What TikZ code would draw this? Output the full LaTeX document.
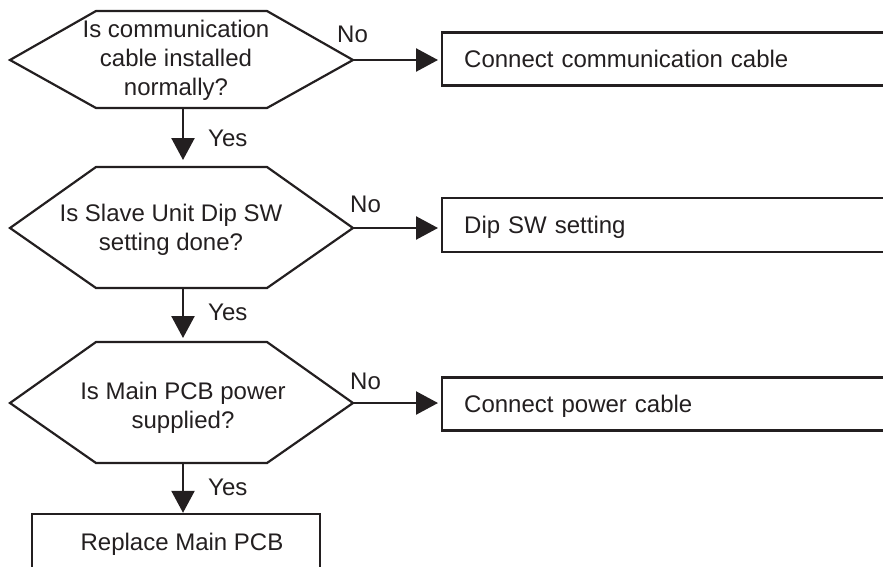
\documentclass[tikz,border=0pt]{standalone}
\usepackage{fontspec}
\setmainfont{Liberation Sans}
\usetikzlibrary{arrows.meta}
\definecolor{ink}{HTML}{231F20}
\tikzset{
  every node/.style={font=\fontsize{24}{29}\selectfont, text=ink, inner sep=0pt},
  hexa/.style={draw=ink, line width=2.2pt, line join=miter},
  qtext/.style={align=center},
  actbox/.style={draw=ink, line width=2.4pt, text height=17.2pt, text depth=0pt},
  lbl/.style={anchor=base west},
  arr/.style={draw=ink, line width=2.4pt, -{Triangle[length=22pt,width=23pt]}}
}
\begin{document}
\begin{tikzpicture}[x=1pt,y=-1pt]
\clip (0,0) rectangle (883,566);
% decision 1
\draw[hexa] (10,60) -- (96,11) -- (267,11) -- (353,60) -- (267,108) -- (96,108) -- cycle;
\coordinate (q1e) at (353,60);
\coordinate (q1s) at (183,108);
\node[qtext] (t1) at (176,60) {Is communication\\cable installed\\normally?};
% decision 2
\draw[hexa] (10,228) -- (96,167) -- (267,167) -- (353,228) -- (267,288) -- (96,288) -- cycle;
\coordinate (q2n) at (183,167);
\coordinate (q2e) at (353,228);
\coordinate (q2s) at (183,288);
\node[qtext] (t2) at (171,230) {Is Slave Unit Dip SW\\setting done?};
% decision 3
\draw[hexa] (10,403) -- (96,342) -- (267,342) -- (353,403) -- (267,463) -- (96,463) -- cycle;
\coordinate (q3n) at (183,342);
\coordinate (q3e) at (353,403);
\coordinate (q3s) at (183,463);
\node[qtext] (t3) at (183,408) {Is Main PCB power\\supplied?};
% action boxes
\node[actbox, anchor=west, minimum width=450pt, minimum height=53pt, text width=406pt, align=left] (a1) at (441,59) {Connect communication cable};
\node[actbox, anchor=west, minimum width=450pt, minimum height=54pt, text width=406pt, align=left] (a2) at (441,225) {Dip SW setting};
\node[actbox, anchor=west, minimum width=450pt, minimum height=53pt, text width=406pt, align=left] (a3) at (441,404) {Connect power cable};
\node[actbox, minimum width=288pt, minimum height=56pt] (r) at (176,542) {\hspace*{12pt}Replace Main PCB};
% connectors
\draw[arr, shorten >=3pt] (q1e) -- (q1e -| a1.west);
\draw[arr, shorten >=3pt] (q2e) -- (q2e -| a2.west);
\draw[arr, shorten >=3pt] (q3e) -- (q3e -| a3.west);
\draw[arr, shorten >=7pt] (q1s) -- (q2n);
\draw[arr, shorten >=4pt] (q2s) -- (q3n);
\draw[arr] (q3s) -- (q3s |- r.north);
% labels
\node[lbl] (n1) at (337,42) {No};
\node[lbl] (n2) at (350,212) {No};
\node[lbl] (n3) at (350,389) {No};
\node[lbl] (y1) at (208,146) {Yes};
\node[lbl] (y2) at (208,320) {Yes};
\node[lbl] (y3) at (208,495) {Yes};
\end{tikzpicture}
\end{document}
